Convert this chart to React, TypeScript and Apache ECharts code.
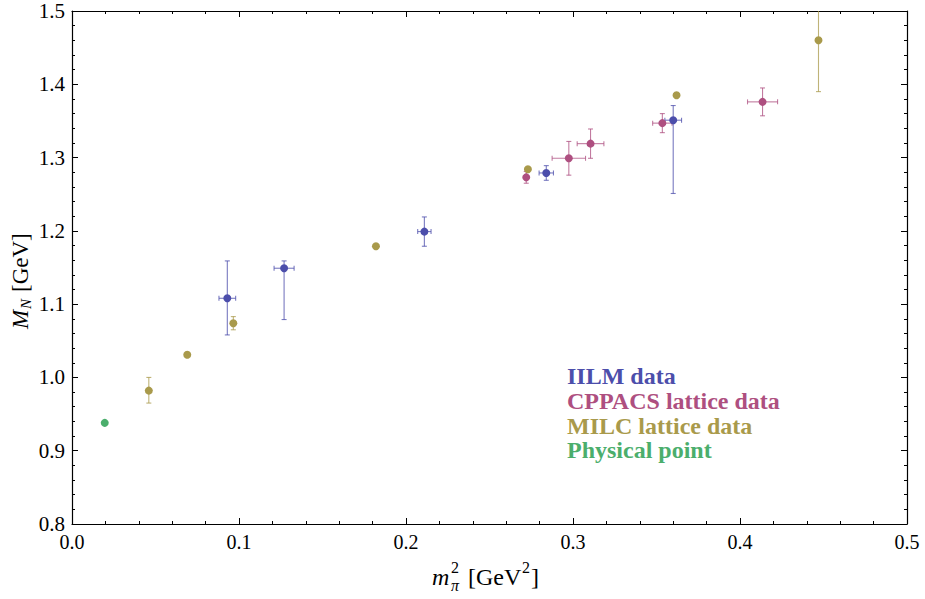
import React, { useEffect, useRef } from "react";
import * as echarts from "echarts";

// ---------------- data ----------------
const iilmX = [0.093, 0.127, 0.211, 0.284, 0.36];
const iilmY = [1.108, 1.149, 1.199, 1.279, 1.351];
const iilmYLow = [1.058, 1.079, 1.179, 1.269, 1.251];
const iilmYHigh = [1.159, 1.159, 1.219, 1.289, 1.371];
const iilmXErr = [0.005, 0.006, 0.004, 0.0043, 0.005];

const cppacsX = [0.272, 0.2975, 0.3105, 0.3535, 0.4135];
const cppacsY = [1.273, 1.299, 1.319, 1.347, 1.376];
const cppacsYLow = [1.265, 1.276, 1.299, 1.334, 1.357];
const cppacsYHigh = [1.281, 1.322, 1.339, 1.36, 1.395];
const cppacsXErr = [0, 0.01, 0.008, 0.0058, 0.009];

const milcX = [0.046, 0.069, 0.0966, 0.182, 0.273, 0.362, 0.447];
const milcY = [0.982, 1.031, 1.074, 1.179, 1.284, 1.385, 1.46];
const milcYLow = [0.965, 1.031, 1.065, 1.179, 1.284, 1.385, 1.39];
const milcYHigh = [1.0, 1.031, 1.083, 1.179, 1.284, 1.385, 1.53];

const physX = [0.0196];
const physY = [0.938];

const xTicks = [0, 0.1, 0.2, 0.3, 0.4, 0.5];
const yTicks = [0.8, 0.9, 1.0, 1.1, 1.2, 1.3, 1.4, 1.5];

const legendNames = ["IILM data", "CPPACS lattice data", "MILC lattice data", "Physical point"];

// ---------------- styles ----------------
const SERIF = "'Liberation Serif', 'DejaVu Serif', serif";
const C_IILM = "#4C4EAB";
const C_CPPACS = "#AE4F80";
const C_MILC = "#A99A4B";
const C_PHYS = "#4BAE6C";

function errData(xs: number[], ys: number[], lo: number[], hi: number[], xe?: number[]) {
  return xs.map((x, i) => [x, ys[i], x - (xe ? xe[i] : 0), x + (xe ? xe[i] : 0), lo[i], hi[i]]);
}

function errSeries(name: string, color: string, data: number[][]) {
  return {
    type: "custom",
    name: name + " errors",
    clip: true,
    silent: true,
    data,
    encode: { x: 0, y: 1 },
    z: 2,
    renderItem: (_params: any, api: any) => {
      const x = api.value(0);
      const y = api.value(1);
      const xl = api.value(2);
      const xh = api.value(3);
      const yl = api.value(4);
      const yh = api.value(5);
      const c = api.coord([x, y]);
      const style = { stroke: color, lineWidth: 1.1, opacity: 0.75 };
      const children: any[] = [];
      const cap = 2.5;
      if (yh > yl) {
        const pt = api.coord([x, yh]);
        const pb = api.coord([x, yl]);
        children.push({ type: "line", shape: { x1: c[0], y1: pt[1], x2: c[0], y2: pb[1] }, style });
        children.push({ type: "line", shape: { x1: c[0] - cap, y1: pt[1], x2: c[0] + cap, y2: pt[1] }, style });
        children.push({ type: "line", shape: { x1: c[0] - cap, y1: pb[1], x2: c[0] + cap, y2: pb[1] }, style });
      }
      if (xh > xl) {
        const pl = api.coord([xl, y]);
        const pr = api.coord([xh, y]);
        children.push({ type: "line", shape: { x1: pl[0], y1: c[1], x2: pr[0], y2: c[1] }, style });
        children.push({ type: "line", shape: { x1: pl[0], y1: c[1] - cap, x2: pl[0], y2: c[1] + cap }, style });
        children.push({ type: "line", shape: { x1: pr[0], y1: c[1] - cap, x2: pr[0], y2: c[1] + cap }, style });
      }
      return { type: "group", children };
    },
  };
}

function pointSeries(name: string, color: string, xs: number[], ys: number[]) {
  return {
    type: "scatter",
    name,
    data: xs.map((x, i) => [x, ys[i]]),
    symbol: "circle",
    symbolSize: 8,
    itemStyle: { color, opacity: 1 },
    z: 3,
  };
}

function txt(text: string, x: number, y: number, size: number, italic = false, color = "#000", bold = false) {
  return {
    type: "text",
    x,
    y,
    silent: true,
    style: {
      text,
      fontSize: size,
      fontFamily: SERIF,
      fontStyle: italic ? "italic" : "normal",
      fontWeight: bold ? "bold" : "normal",
      fill: color,
      align: "left",
      verticalAlign: "middle",
    },
  };
}

export default function App() {
  const ref = useRef<HTMLDivElement>(null);
  useEffect(() => {
    if (!ref.current) return;
    document.body.style.margin = "0";
    const chart = echarts.init(ref.current, undefined, { renderer: "svg" });
    const axisCommon = {
      type: "value",
      axisLine: { show: true, onZero: false, lineStyle: { color: "#000", width: 1.2 } },
      axisTick: { show: true, inside: true, length: 6, lineStyle: { color: "#000", width: 1 } },
      minorTick: { show: true, splitNumber: 5, length: 3, lineStyle: { color: "#000", width: 1 } },
      splitLine: { show: false },
      minorSplitLine: { show: false },
    };
    const legendColors = [C_IILM, C_CPPACS, C_MILC, C_PHYS];
    chart.setOption({
      animation: false,
      backgroundColor: "#fff",
      grid: { left: 72, right: 18, top: 11, bottom: 75, containLabel: false },
      xAxis: [
        {
          ...axisCommon,
          position: "bottom",
          min: xTicks[0],
          max: xTicks[xTicks.length - 1],
          interval: 0.1,
          axisLabel: {
            show: true,
            margin: 8,
            fontSize: 20,
            fontFamily: SERIF,
            color: "#000",
            formatter: (v: number) => v.toFixed(1),
          },
        },
        {
          ...axisCommon,
          position: "top",
          min: xTicks[0],
          max: xTicks[xTicks.length - 1],
          interval: 0.1,
          axisLabel: { show: false },
        },
      ],
      yAxis: [
        {
          ...axisCommon,
          position: "left",
          min: yTicks[0],
          max: yTicks[yTicks.length - 1],
          interval: 0.1,
          axisLabel: {
            show: true,
            margin: 7,
            fontSize: 21,
            fontFamily: SERIF,
            color: "#000",
            formatter: (v: number) => v.toFixed(1),
          },
        },
        {
          ...axisCommon,
          position: "right",
          min: yTicks[0],
          max: yTicks[yTicks.length - 1],
          interval: 0.1,
          axisLabel: { show: false },
        },
      ],
      series: [
        errSeries("MILC", C_MILC, errData(milcX, milcY, milcYLow, milcYHigh)),
        pointSeries(legendNames[2], C_MILC, milcX, milcY),
        errSeries("CPPACS", C_CPPACS, errData(cppacsX, cppacsY, cppacsYLow, cppacsYHigh, cppacsXErr)),
        pointSeries(legendNames[1], C_CPPACS, cppacsX, cppacsY),
        errSeries("IILM", C_IILM, errData(iilmX, iilmY, iilmYLow, iilmYHigh, iilmXErr)),
        pointSeries(legendNames[0], C_IILM, iilmX, iilmY),
        pointSeries(legendNames[3], C_PHYS, physX, physY),
      ],
      graphic: [
        // legend
        ...legendNames.map((n, i) => txt(n, 567, 376 + i * 24.8, 24, false, legendColors[i], true)),
        // x axis title: m_pi^2 [GeV^2]
        txt("m", 432, 577, 24, true),
        txt("2", 451, 567, 16),
        txt("π", 451, 585, 16, true),
        txt("[GeV", 468, 577, 24),
        txt("2", 522, 567, 16),
        txt("]", 531, 577, 24),
        // y axis title: M_N [GeV]
        {
          type: "group",
          x: 20,
          y: 272,
          rotation: Math.PI / 2,
          children: [
            txt("M", -57, 0, 23, true),
            txt("N", -37, 6, 15, true),
            txt("[GeV]", -20, 0, 23),
          ],
        },
      ],
    });
    return () => chart.dispose();
  }, []);
  return <div ref={ref} style={{ width: 925, height: 599 }} />;
}
